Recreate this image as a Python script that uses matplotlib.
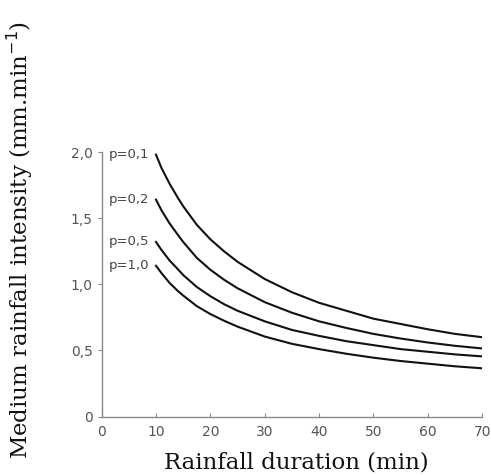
import matplotlib
matplotlib.use("Agg")
import matplotlib.pyplot as plt

# Rainfall duration (min)
duration = [10, 11, 12.5, 14, 15, 17.5, 20, 22.5, 25, 30, 35, 40, 45, 50, 55, 60, 65, 70]

# Medium rainfall intensity (mm/min) for each probability
p_01 = [1.98, 1.88, 1.76, 1.655, 1.59, 1.45, 1.34, 1.25, 1.17, 1.04, 0.94, 0.86, 0.80, 0.74, 0.70, 0.66, 0.625, 0.60]
p_02 = [1.64, 1.56, 1.46, 1.375, 1.32, 1.20, 1.11, 1.035, 0.97, 0.865, 0.785, 0.72, 0.67, 0.625, 0.59, 0.56, 0.535, 0.515]
p_05 = [1.32, 1.26, 1.18, 1.115, 1.07, 0.98, 0.91, 0.85, 0.80, 0.72, 0.655, 0.61, 0.57, 0.54, 0.51, 0.49, 0.47, 0.455]
p_10 = [1.14, 1.085, 1.01, 0.95, 0.915, 0.835, 0.775, 0.725, 0.68, 0.605, 0.55, 0.51, 0.475, 0.445, 0.42, 0.40, 0.38, 0.365]

series = [p_01, p_02, p_05, p_10]
labels = ["p=0,1", "p=0,2", "p=0,5", "p=1,0"]

xticks = [0, 10, 20, 30, 40, 50, 60, 70]
yticks = [0, 0.5, 1.0, 1.5, 2.0]
yticklabels = ["0", "0,5", "1,0", "1,5", "2,0"]

fig = plt.figure(figsize=(4.91, 4.75), dpi=100)
ax = fig.add_axes([0.207, 0.123, 0.775, 0.557])

for vals, lab in zip(series, labels):
    ax.plot(duration, vals, color="#111111", linewidth=1.5)
    ax.text(8.8, vals[0], lab, ha="right", va="center", fontsize=9.5, color="#444444")

ax.set_xlim(0, 70)
ax.set_ylim(0, 2.0)
ax.set_xticks(xticks)
ax.set_xticklabels([str(x) for x in xticks])
ax.set_yticks(yticks)
ax.set_yticklabels(yticklabels)

# Plot settings
for side in ["top", "right"]:
    ax.spines[side].set_visible(False)
for side in ["left", "bottom"]:
    ax.spines[side].set_color("#888888")
    ax.spines[side].set_linewidth(1.0)
ax.tick_params(axis="both", colors="#888888", labelcolor="#555555", labelsize=10, length=3, width=0.8)
ax.tick_params(axis="x", direction="in", pad=6)

fig.text(296 / 491, 1 - 462 / 475, "Rainfall duration (min)", family="DejaVu Serif", fontsize=16.5,
         color="#111111", ha="center", va="center")
fig.text(20 / 491, 1 - 240 / 475, "Medium rainfall intensity (mm.min$^{-1}$)", family="DejaVu Serif",
         fontsize=16.5, color="#111111", ha="center", va="center", rotation=90)

fig.savefig("out.png", dpi=100)
